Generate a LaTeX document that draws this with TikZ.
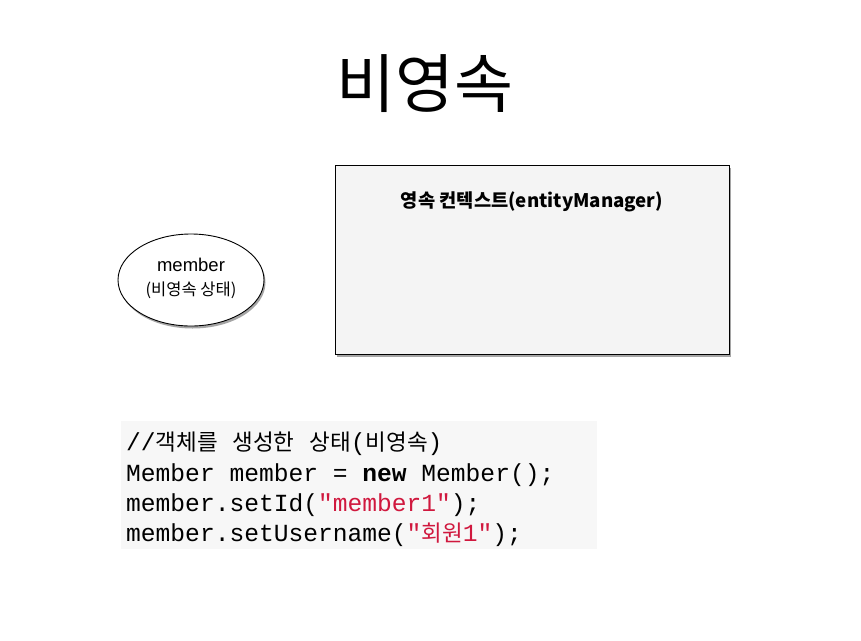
\documentclass[tikz,border=0pt]{standalone}
\usepackage{fontspec}
\setmainfont{Liberation Sans}
\setmonofont{Liberation Mono}
\newfontfamily\kr{Noto Sans CJK KR}
\usetikzlibrary{shapes.geometric,shadows}
\definecolor{boxfill}{RGB}{244,244,244}
\definecolor{codebg}{RGB}{247,247,247}
\definecolor{strred}{RGB}{208,24,62}
\tikzset{
  shadowed/.style={drop shadow={shadow xshift=1.5pt,shadow yshift=-2.5pt,opacity=0.5,fill=black!70}},
  codeline/.style={anchor=base west,inner sep=0pt,font=\ttfamily\fontsize{24.6}{24.6}\selectfont},
}
\newcommand{\ck}[1]{{\kr\fontsize{22.5}{22.5}\selectfont #1}}
\begin{document}
\begin{tikzpicture}[x=1pt,y=-1pt]
\useasboundingbox (0,0) rectangle (861,640);
\fill[white] (0,0) rectangle (861,640);
% title
\node[inner sep=0pt,font=\kr\fontsize{64}{64}\selectfont] (title) at (425,84) {비영속};
% ellipse
\node[ellipse,draw,line width=0.9pt,fill=white,minimum width=146pt,minimum height=92pt,shadowed] (member) at (191,280) {};
\node[inner sep=0pt,font=\fontsize{18.5}{18.5}\selectfont] (mname) at (191,265) {member};
\node[inner sep=0pt,font=\kr\fontsize{16.5}{16.5}\selectfont] (mstate) at (191,290) {(비영속 상태)};
% persistence context box
\node[draw,line width=1pt,fill=boxfill,minimum width=394pt,minimum height=189pt,inner sep=0pt,shadowed] (pc) at (532,259.5) {};
\node[inner sep=0pt,font=\kr\bfseries\fontsize{18.7}{18.7}\selectfont] (pctitle) at (532,202) {영속 컨텍스트(entityManager)};
% code block
\node[fill=codebg,minimum width=476pt,minimum height=128pt,inner sep=0pt] (code) at (359,485) {};
\node[codeline] (l1) at (126,450) {//\ck{객체를} \ck{생성한} \ck{상태}(\ck{비영속})};
\node[codeline] (l2) at (126,481) {Member member = \textbf{new} Member();};
\node[codeline] (l3) at (126,511) {member.setId(\textcolor{strred}{"member1"});};
\node[codeline] (l4) at (126,541) {member.setUsername(\textcolor{strred}{"\ck{회원}1"});};
\end{tikzpicture}
\end{document}
